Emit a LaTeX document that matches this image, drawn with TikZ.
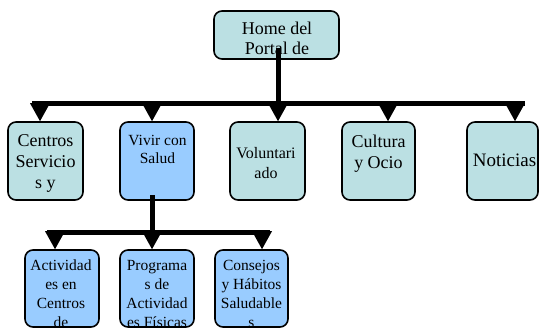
\documentclass[tikz,border=0pt]{standalone}
\usepackage{fontspec}
\setmainfont{Liberation Serif}
\usetikzlibrary{arrows.meta}
\definecolor{cyanbox}{RGB}{187,224,227}
\definecolor{bluebox}{RGB}{153,204,255}
\newcommand\fsz[2]{\fontsize{#1}{#2}\selectfont}
\tikzset{
  box/.style={draw=black, line width=1.6pt, rounded corners=8pt, inner sep=0pt, fill=#1},
  txt/.style={inner sep=0pt, align=center, anchor=north, text=black},
  bus/.style={line width=5pt, line cap=butt},
  arr/.style={line width=5pt, -{Triangle[width=20pt,length=18pt,line width=0pt]}},
}
\newcommand\boxtext[4]{% box name, x, y, content (with options)
  \begin{scope}
  \clip[rounded corners=7pt] ([shift={(1,-1)}]#1.south west) rectangle ([shift={(-1,1)}]#1.north east);
  \node at (#2,#3) #4;
  \end{scope}}
\begin{document}
\begin{tikzpicture}[x=1pt,y=-1pt]
\useasboundingbox[fill=white] (0,0) rectangle (539,329);
% boxes
\node[box=cyanbox, minimum width=125pt, minimum height=48pt] (home) at (276.5,35) {};
\node[box=cyanbox, minimum width=75pt, minimum height=78pt] (centros) at (45.5,161) {};
\node[box=bluebox, minimum width=74pt, minimum height=78pt] (vivir) at (157,161) {};
\node[box=cyanbox, minimum width=75pt, minimum height=78pt] (vol) at (267.5,161) {};
\node[box=cyanbox, minimum width=73pt, minimum height=78pt] (cult) at (378.5,161) {};
\node[box=cyanbox, minimum width=71pt, minimum height=78pt] (not) at (502.5,161) {};
\node[box=bluebox, minimum width=74pt, minimum height=77pt] (act) at (62,288.5) {};
\node[box=bluebox, minimum width=74pt, minimum height=77pt] (prog) at (157,288.5) {};
\node[box=bluebox, minimum width=73pt, minimum height=77pt] (cons) at (251.5,288.5) {};
% texts, clipped to their boxes
\boxtext{home}{277}{20}{[txt, font=\fsz{18}{20}] (thome) {\strut Home del\\Portal de}}
\boxtext{centros}{45.5}{131.5}{[txt, font=\fsz{18}{21}] (tcentros) {\strut Centros\\Servicio\\s y}}
\boxtext{vivir}{157.5}{132.4}{[txt, font=\fsz{15.5}{18}] (tvivir) {\strut Vivir con\\Salud}}
\boxtext{vol}{266}{144.5}{[txt, font=\fsz{16}{20}] (tvol) {\strut Voluntari\\ado}}
\boxtext{cult}{378.5}{132.3}{[txt, font=\fsz{18}{21}] (tcult) {\strut Cultura\\y Ocio}}
\boxtext{not}{504.5}{151.3}{[txt, font=\fsz{19}{21}] (tnot) {\strut Noticias}}
\boxtext{act}{61}{257.2}{[txt, font=\fsz{15.5}{19}] (tact) {\strut Actividad\\es en\\Centros\\de}}
\boxtext{prog}{157}{257.2}{[txt, font=\fsz{15.5}{19}] (tprog) {\strut Programa\\s de\\Actividad\\es Físicas}}
\boxtext{cons}{251.5}{257.2}{[txt, font=\fsz{15.5}{19}] (tcons) {\strut Consejos\\y Hábitos\\Saludable\\s}}
% connector coordinates
\coordinate (h0) at (278,48);
\coordinate (hb) at (278,104);
\coordinate (busL) at (32,104);
\coordinate (busR) at (525,104);
\coordinate (b1) at (40,104);
\coordinate (b2) at (152,104);
\coordinate (b3) at (278,104);
\coordinate (b4) at (388,104);
\coordinate (b5) at (515,104);
\coordinate (v0) at (152,195);
\coordinate (vb) at (152,232);
\coordinate (bus2L) at (47,232);
\coordinate (bus2R) at (270,232);
\coordinate (c1) at (55,232);
\coordinate (c2) at (152,232);
\coordinate (c3) at (262,232);
% level 1 connectors
\draw[bus] (h0) -- (hb);
\draw[bus] (busL) -- (busR);
\draw[arr] (b1) -- (b1 |- centros.north);
\draw[arr] (b2) -- (b2 |- vivir.north);
\draw[arr] (b3) -- (b3 |- vol.north);
\draw[arr] (b4) -- (b4 |- cult.north);
\draw[arr] (b5) -- (b5 |- not.north);
% level 2 connectors
\draw[bus] (v0) -- (vb);
\draw[bus] (bus2L) -- (bus2R);
\draw[arr] (c1) -- (c1 |- act.north);
\draw[arr] (c2) -- (c2 |- prog.north);
\draw[arr] (c3) -- (c3 |- cons.north);
\end{tikzpicture}
\end{document}
